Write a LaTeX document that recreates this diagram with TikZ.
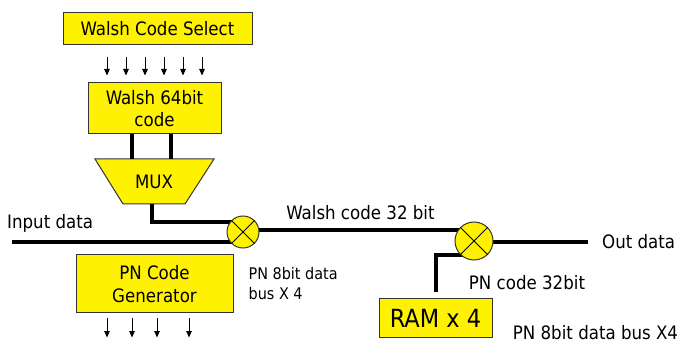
\documentclass[tikz,border=0pt]{standalone}
\usepackage{fontspec}
\setmainfont{DejaVu Sans Condensed}
\usetikzlibrary{positioning, calc, arrows.meta}

\begin{document}
\begin{tikzpicture}[x=1pt, y=-1pt,
    fillbox/.style={draw=black!80, line width=1pt, fill=yellow},
    box/.style={fillbox, align=center, inner sep=0pt, font=\fontsize{18.5}{22.5}\selectfont},
    mixer/.style={circle, draw=black!80, line width=1pt, fill=yellow, minimum size=#1, inner sep=0pt},
    bus/.style={line width=4pt},
    sig/.style={line width=0.9pt, -{Triangle[width=5.5pt,length=6.5pt]}},
    lbl/.style={font=\fontsize{18.5}{22}\selectfont, inner sep=0pt},
    small/.style={font=\fontsize{16}{20}\selectfont, inner sep=0pt, align=left}]
  \useasboundingbox (0,0) rectangle (680,347);
  % code select and walsh table
  \node[box, minimum width=189pt, minimum height=32pt] (sel) at (157.5,29) {Walsh Code Select};
  \node[box, minimum width=133pt, minimum height=51pt] (walsh) at (154.5,108.5) {Walsh 64bit\\code};
  \foreach \x in {107,126,...,202}
    \draw[sig, shorten <=12pt, shorten >=7pt] (sel.south -| \x,0) -- (walsh.north -| \x,0);
  % mux
  \draw[fillbox] (95,159) coordinate (muxtop) -- (214,159) -- (185,204) -- (123,204) -- cycle;
  \node[lbl] (mux) at (154,182) {MUX};
  \coordinate (muxout) at (152,204);
  \foreach \x in {132,171}
    \draw[bus] (walsh.south -| \x,0) -- (muxtop -| \x,0);
  % pn generator and ram
  \node[box, minimum width=157pt, minimum height=58pt] (pn) at (154.5,284) {PN Code\\Generator};
  \foreach \x in {107,132,157,189}
    \draw[sig] (pn.south -| \x,0) ++(0,5) -- ++(0,19);
  \node[box, minimum width=113pt, minimum height=38pt, font=\fontsize{25}{30}\selectfont] (ram) at (435.5,318) {RAM x 4};
  % mixers
  \coordinate (c1) at (243,232);
  \coordinate (c2) at (474,241);
  \coordinate (in) at (12,242);
  \coordinate (out) at (588,242);
  \coordinate (r1) at (436,255);
  \draw[bus] (in) -- (in -| c1);
  \draw[bus] (muxout) |- ($(c1)+(0,-10)$);
  \draw[bus] ($(c1)+(0,-2)$) -- ($(c2)+(0,-11)$);
  \draw[bus] (out -| c2) -- (out);
  \draw[bus, shorten <=6pt] (r1 |- ram.north) -- (r1) -- (r1 -| c2);
  \node[mixer=32pt] (mix1) at (c1) {};
  \node[mixer=38pt] (mix2) at (c2) {};
  \foreach \m in {mix1,mix2}
    \draw[line width=0.8pt] (\m.north west) -- (\m.south east) (\m.north east) -- (\m.south west);
  % labels
  \node[lbl, anchor=west] (inlbl) at (7,223) {Input data};
  \node[lbl] (wlbl) at (360.5,213) {Walsh code 32 bit};
  \node[lbl, right=14pt of out] (outlbl) {Out data};
  \node[lbl] (pnlbl) at (527,283) {PN code 32bit};
  \node[small, right=15pt of pn] (buslbl) {PN 8bit data\\bus X 4};
  \node[lbl] (ramlbl) at (595.5,333) {PN 8bit data bus X4};
\end{tikzpicture}
\end{document}
